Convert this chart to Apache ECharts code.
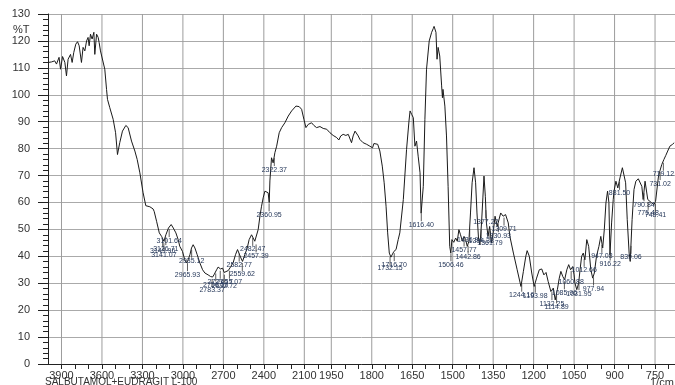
<!DOCTYPE html>
<html>
<head>
<meta charset="utf-8">
<script src="https://cdn.jsdelivr.net/npm/echarts@6/dist/echarts.min.js"></script>
<style>
  html, body { margin: 0; padding: 0; background: #fff; }
  #chart { width: 675px; height: 385px; }
</style>
</head>
<body>
<div id="chart"></div>
<script>
// wavenumber (1/cm) and %T
const wavenumbers = [
  3998, 3974, 3950, 3937, 3918, 3907, 3892, 3875, 3863, 3851, 3833, 3821, 3809, 3794, 3781, 3769,
  3752, 3740, 3727, 3714, 3703, 3695, 3685, 3673, 3660, 3653, 3640, 3628, 3621, 3611, 3603, 3579,
  3566, 3559, 3542, 3517, 3499, 3485, 3468, 3448, 3423, 3406, 3381, 3356, 3339, 3319, 3295, 3275,
  3245, 3221, 3213, 3195, 3175, 3158, 3146, 3141, 3126, 3107, 3087, 3071, 3052, 3035, 3023, 3003,
  2986, 2973, 2961, 2948, 2936, 2924, 2911, 2894, 2874, 2854, 2837, 2813, 2795, 2780, 2770, 2750,
  2739, 2721, 2706, 2694, 2681, 2664, 2647, 2627, 2610, 2595, 2583, 2570, 2558, 2541, 2523, 2509,
  2491, 2479, 2467, 2454, 2442, 2429, 2417, 2405, 2392, 2380, 2368, 2360, 2355, 2343, 2331, 2318,
  2305, 2286, 2268, 2244, 2219, 2194, 2162, 2138, 2120, 2103, 2088, 2071, 2046, 2029, 2009, 1992,
  1980, 1967, 1955, 1943, 1930, 1922, 1915, 1906, 1896, 1887, 1875, 1869, 1862, 1856, 1850, 1844,
  1832, 1819, 1807, 1797, 1792, 1785, 1778, 1770, 1761, 1754, 1747, 1741, 1735, 1729, 1723, 1718,
  1710, 1702, 1696, 1683, 1671, 1662, 1658, 1652, 1646, 1640, 1634, 1628, 1621, 1617, 1609, 1603,
  1597, 1587, 1578, 1572, 1569, 1562, 1558, 1554, 1548, 1541, 1538, 1536, 1529, 1523, 1517, 1511,
  1507, 1503, 1496, 1489, 1483, 1477, 1471, 1464, 1458, 1452, 1446, 1440, 1434, 1428, 1421, 1415,
  1410, 1404, 1399, 1393, 1388, 1384, 1379, 1375, 1369, 1363, 1356, 1350, 1343, 1335, 1322, 1313,
  1304, 1294, 1288, 1275, 1261, 1247, 1238, 1229, 1224, 1216, 1207, 1198, 1189, 1179, 1170, 1162,
  1154, 1146, 1136, 1127, 1120, 1112, 1105, 1099, 1092, 1085, 1077, 1070, 1063, 1055, 1050, 1047,
  1040, 1033, 1028, 1022, 1016, 1010, 1003, 996, 988, 981, 975, 967, 958, 951, 944, 938,
  932, 926, 921, 917, 911, 905, 902, 895, 888, 880, 871, 859, 853, 846, 842, 835,
  828, 821, 812, 799, 794, 787, 777, 762, 754, 748, 738, 734, 725, 717, 710, 703,
  695, 685, 679
];
const transmittance = [
  112.0, 112.2, 112.6, 111.4, 113.9, 109.5, 114.2, 112.0, 107.0, 113.2, 115.0, 112.0, 115.7, 118.8, 119.7, 118.2,
  112.0, 117.6, 116.3, 120.0, 121.3, 118.2, 122.5, 120.7, 123.2, 115.0, 122.5, 121.3, 119.4, 116.3, 115.7, 109.5,
  102.0, 98.3, 95.2, 90.9, 85.9, 77.8, 82.2, 86.5, 88.6, 87.8, 82.8, 79.1, 76.0, 71.0, 63.6, 58.8,
  58.4, 57.6, 56.7, 53.0, 48.7, 47.4, 46.8, 45.6, 48.0, 50.5, 51.8, 50.5, 48.7, 46.2, 43.7, 41.8,
  38.7, 37.5, 38.7, 40.6, 43.1, 44.3, 43.1, 40.6, 37.5, 35.0, 33.8, 33.1, 32.5, 32.3, 33.1, 35.0,
  36.0, 35.3, 35.6, 34.0, 33.5, 34.7, 36.0, 37.7, 40.6, 42.5, 41.8, 39.4, 38.1, 40.6, 43.1, 46.2,
  48.0, 47.4, 45.6, 45.0, 49.9, 54.9, 58.6, 61.7, 64.2, 64.8, 63.6, 60.0, 68.0, 76.6, 74.7, 78.5,
  80.9, 85.9, 87.8, 89.6, 92.1, 94.0, 95.8, 95.6, 94.6, 90.9, 87.8, 89.0, 89.6, 88.6, 87.8, 88.2,
  87.5, 87.2, 85.9, 84.9, 84.1, 83.2, 84.7, 85.3, 84.9, 85.3, 82.2, 84.7, 86.5, 85.9, 84.7, 83.4,
  82.2, 81.6, 80.9, 80.3, 81.9, 82.4, 81.6, 79.1, 73.5, 67.3, 58.6, 48.7, 41.2, 39.7, 40.2, 41.8,
  42.5, 46.2, 48.7, 61.1, 79.7, 90.2, 94.0, 92.7, 91.5, 80.9, 82.8, 77.2, 71.0, 56.0, 66.0, 90.9,
  109.5, 120.0, 123.2, 124.6, 125.4, 123.2, 113.2, 117.6, 114.4, 103.3, 98.9, 102.0, 95.8, 84.7, 66.0, 43.7,
  41.2, 46.2, 45.2, 46.8, 45.6, 49.9, 48.0, 45.6, 47.4, 46.2, 43.7, 45.6, 56.1, 67.3, 72.9, 67.3,
  56.1, 46.2, 44.3, 52.4, 62.0, 69.8, 62.3, 52.4, 47.4, 51.1, 45.0, 48.7, 54.9, 51.1, 56.1, 54.9,
  55.5, 52.4, 47.4, 41.2, 35.0, 28.8, 34.4, 40.0, 42.1, 40.0, 33.8, 28.8, 31.9, 35.0, 35.3, 33.1,
  34.0, 30.6, 26.9, 28.2, 23.8, 27.6, 31.9, 34.4, 32.5, 31.3, 35.0, 36.9, 35.0, 36.2, 33.1, 30.1,
  27.6, 30.1, 35.0, 40.0, 41.2, 38.7, 46.2, 43.7, 35.0, 31.9, 33.8, 40.0, 43.7, 47.4, 43.1, 50.0,
  59.8, 64.2, 60.0, 40.6, 52.4, 61.0, 64.2, 67.9, 65.4, 69.1, 72.9, 67.3, 53.6, 41.2, 38.1, 53.6,
  64.8, 67.9, 68.8, 66.0, 61.1, 67.9, 61.1, 59.8, 59.2, 60.4, 69.1, 71.0, 74.1, 76.0, 77.5, 79.1,
  80.9, 81.6, 82.2
];
const gridWavenumbers = [3900, 3600, 3300, 3000, 2700, 2400, 2100, 1950, 1800, 1650, 1500, 1350, 1200, 1050, 900, 750];
const peakLabels = [
  '3149.96', '3141.07', '3126.71', '3101.64', '2965.93', '2935.12', '2783.37', '2756.56',
  '2723.17', '2692.72', '2655.07', '2582.77', '2559.62', '2482.47', '2457.39', '2360.95',
  '2322.37', '1732.15', '1716.70', '1616.40', '1506.46', '1457.77', '1442.86', '1436.94',
  '1394.38', '1377.22', '1361.79', '1330.93', '1309.71', '1244.16', '1193.98', '1132.25',
  '1114.89', '1085.96', '1060.88', '1031.95', '1012.66', '977.94', '947.08', '916.22',
  '881.50', '839.06', '790.84', '775.48', '748.41', '731.02', '719.12'
];

// the instrument draws 4000-2000 at half the scale of 2000-400
function toT(w) {
  return w >= 2000 ? (4000 - w) / 2 : 3000 - w;
}
function fromT(t) {
  return t <= 1000 ? 4000 - 2 * t : 3000 - t;
}
function traceAt(w) {
  for (let i = 0; i < wavenumbers.length - 1; i++) {
    const a = wavenumbers[i], b = wavenumbers[i + 1];
    if (w <= a && w >= b) {
      const f = (a - w) / (a - b);
      return transmittance[i] + f * (transmittance[i + 1] - transmittance[i]);
    }
  }
  return transmittance[transmittance.length - 1];
}

const minorTicks = [];
for (let w = 3900; w > 2000; w -= 100) minorTicks.push(toT(w));
for (let w = 2000; w >= 700; w -= 50) minorTicks.push(toT(w));

const chart = echarts.init(document.getElementById('chart'));
const font = "'Liberation Sans', Arial, sans-serif";

chart.setOption({
  animation: false,
  grid: { left: 48, top: 14, right: 0, bottom: 21 },
  xAxis: {
    type: 'value',
    min: 0,
    max: 2324,
    axisLine: { show: true, onZero: false, lineStyle: { color: '#222', width: 1 } },
    axisTick: { show: true, customValues: minorTicks, length: 5, lineStyle: { color: '#222' } },
    axisLabel: {
      customValues: gridWavenumbers.map(toT),
      formatter: v => String(Math.round(fromT(v))),
      margin: 6, color: '#333', fontSize: 11, fontFamily: font
    },
    splitLine: { show: false }
  },
  yAxis: {
    type: 'value',
    min: 0,
    max: 130,
    interval: 10,
    axisLine: { show: true, lineStyle: { color: '#222', width: 1 } },
    axisTick: { show: true, length: 10, lineStyle: { color: '#222' } },
    minorTick: { show: true, splitNumber: 5, length: 5, lineStyle: { color: '#222' } },
    axisLabel: { margin: 18, color: '#333', fontSize: 11, fontFamily: font },
    splitLine: { show: true, lineStyle: { color: '#aaaaaa', width: 1 } }
  },
  graphic: [
    { type: 'text', left: 13, top: 24, style: { text: '%T', fontSize: 11, fill: '#333', font: '11px ' + font } },
    { type: 'text', left: 45, top: 377, style: { text: 'SALBUTAMOL+EUDRAGIT L-100', fill: '#333', font: '10px ' + font } },
    { type: 'text', left: 650, top: 377, style: { text: '1/cm', fill: '#333', font: '11px ' + font } }
  ],
  series: [
    {
      // vertical grid lines at labelled wavenumbers
      type: 'custom',
      silent: true,
      z: 1,
      data: gridWavenumbers.map(w => [toT(w)]),
      renderItem: (params, api) => {
        const top = api.coord([api.value(0), 130]);
        const bottom = api.coord([api.value(0), 0]);
        return {
          type: 'line',
          shape: { x1: top[0], y1: top[1], x2: bottom[0], y2: bottom[1] },
          style: { stroke: '#9c9c9c', lineWidth: 1 }
        };
      }
    },
    {
      type: 'line',
      z: 3,
      data: wavenumbers.map((w, i) => [toT(w), transmittance[i]]),
      showSymbol: false,
      lineStyle: { color: '#1a1a1a', width: 1 }
    },
    {
      // peak picking labels
      type: 'custom',
      silent: true,
      z: 4,
      data: peakLabels.map(s => [toT(parseFloat(s)), traceAt(parseFloat(s)), s]),
      renderItem: (params, api) => {
        const p = api.coord([api.value(0), api.value(1)]);
        return {
          type: 'group',
          children: [
            {
              type: 'line',
              shape: { x1: p[0], y1: p[1] + 2, x2: p[0], y2: p[1] + 10 },
              style: { stroke: '#333', lineWidth: 0.8 }
            },
            {
              type: 'text',
              x: p[0],
              y: p[1] + 10,
              style: {
                text: peakLabels[params.dataIndex],
                font: '7px ' + font,
                fill: '#26385a',
                textAlign: 'center',
                textVerticalAlign: 'top'
              }
            }
          ]
        };
      }
    }
  ]
});
</script>
</body>
</html>
